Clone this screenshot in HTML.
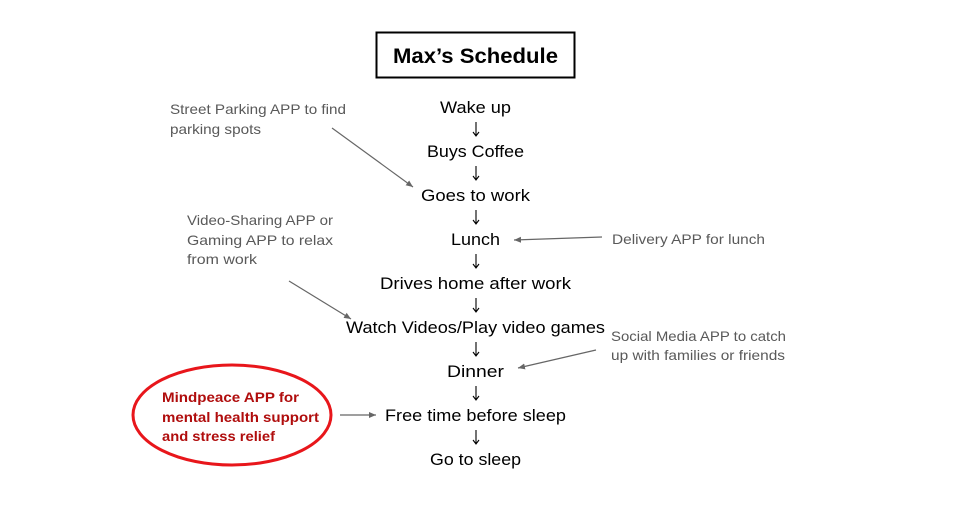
<!DOCTYPE html>
<html><head><meta charset="utf-8"><style>
html,body{margin:0;padding:0;background:#fff;}
svg{display:block;}
.m{font-family:"Liberation Sans",sans-serif;font-size:17px;fill:#000;}
.g{font-family:"Liberation Sans",sans-serif;font-size:14px;fill:#595959;}
.r{font-family:"Liberation Sans",sans-serif;font-size:14px;font-weight:bold;fill:#b00d0d;}
</style></head><body>
<svg width="959" height="509" viewBox="0 0 959 509" xmlns="http://www.w3.org/2000/svg">
<defs><marker id="ah" markerWidth="8" markerHeight="8" refX="7" refY="4" orient="auto" markerUnits="userSpaceOnUse"><path d="M0,1 L7,4 L0,7 z" fill="#666"/></marker></defs>
<rect x="376.5" y="32.5" width="198" height="45" fill="#fff" stroke="#000" stroke-width="2"/>
<text x="393" y="63" font-family="Liberation Sans,sans-serif" font-weight="bold" font-size="21" textLength="165" lengthAdjust="spacingAndGlyphs">Max’s Schedule</text>
<text class="m" x="440" y="113" textLength="71" lengthAdjust="spacingAndGlyphs">Wake up</text>
<text class="m" x="427" y="157" textLength="97" lengthAdjust="spacingAndGlyphs">Buys Coffee</text>
<text class="m" x="421" y="201" textLength="109" lengthAdjust="spacingAndGlyphs">Goes to work</text>
<text class="m" x="451" y="245" textLength="49" lengthAdjust="spacingAndGlyphs">Lunch</text>
<text class="m" x="380" y="289" textLength="191" lengthAdjust="spacingAndGlyphs">Drives home after work</text>
<text class="m" x="346" y="333" textLength="259" lengthAdjust="spacingAndGlyphs">Watch Videos/Play video games</text>
<text class="m" x="447" y="377" textLength="57" lengthAdjust="spacingAndGlyphs">Dinner</text>
<text class="m" x="385" y="421" textLength="181" lengthAdjust="spacingAndGlyphs">Free time before sleep</text>
<text class="m" x="430" y="465" textLength="91" lengthAdjust="spacingAndGlyphs">Go to sleep</text>
<g stroke="#000" stroke-width="1.1" fill="none">
<path d="M476,122v14 M473,132l3,4l3,-4"/>
<path d="M476,166v14 M473,176l3,4l3,-4"/>
<path d="M476,210v14 M473,220l3,4l3,-4"/>
<path d="M476,254v14 M473,264l3,4l3,-4"/>
<path d="M476,298v14 M473,308l3,4l3,-4"/>
<path d="M476,342v14 M473,352l3,4l3,-4"/>
<path d="M476,386v14 M473,396l3,4l3,-4"/>
<path d="M476,430v14 M473,440l3,4l3,-4"/>
</g>
<text class="g" x="170" y="114" textLength="176" lengthAdjust="spacingAndGlyphs">Street Parking APP to find</text>
<text class="g" x="170" y="134" textLength="91" lengthAdjust="spacingAndGlyphs">parking spots</text>
<text class="g" x="187" y="225" textLength="146" lengthAdjust="spacingAndGlyphs">Video-Sharing APP or</text>
<text class="g" x="187" y="245" textLength="146" lengthAdjust="spacingAndGlyphs">Gaming  APP to  relax</text>
<text class="g" x="187" y="264" textLength="70" lengthAdjust="spacingAndGlyphs">from work</text>
<text class="g" x="612" y="244" textLength="153" lengthAdjust="spacingAndGlyphs">Delivery APP for lunch</text>
<text class="g" x="611" y="341" textLength="175" lengthAdjust="spacingAndGlyphs">Social Media APP to catch</text>
<text class="g" x="611" y="360" textLength="174" lengthAdjust="spacingAndGlyphs">up with families or friends</text>
<g stroke="#666" stroke-width="1.2" fill="none" marker-end="url(#ah)">
<line x1="332" y1="128" x2="413" y2="187"/>
<line x1="289" y1="281" x2="351" y2="319"/>
<line x1="602" y1="237" x2="514" y2="240"/>
<line x1="596" y1="350" x2="518" y2="368"/>
<line x1="340" y1="415" x2="376" y2="415"/>
</g>
<ellipse cx="232" cy="415" rx="99" ry="50" fill="none" stroke="#e8161b" stroke-width="3"/>
<text class="r" x="162" y="402" textLength="137" lengthAdjust="spacingAndGlyphs">Mindpeace APP for</text>
<text class="r" x="162" y="422" textLength="157" lengthAdjust="spacingAndGlyphs">mental health support</text>
<text class="r" x="162" y="441" textLength="113" lengthAdjust="spacingAndGlyphs">and stress relief</text>
</svg>
</body></html>
